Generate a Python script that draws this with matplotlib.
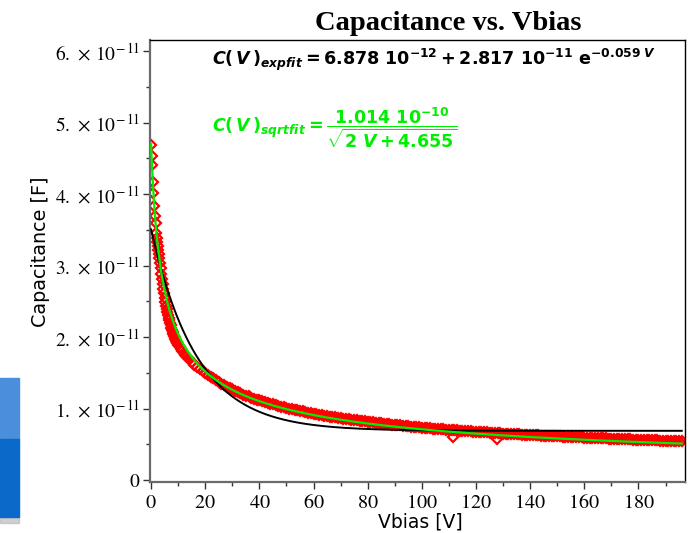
import numpy as np
import matplotlib
matplotlib.use("Agg")
import matplotlib.pyplot as plt
from matplotlib.ticker import MultipleLocator
from matplotlib.patches import Rectangle

# ---------------- data (capacitance in units of 1e-11 F) ----------------
v_data = [0.0, 0.18, 0.32, 0.63, 0.87, 1.18, 1.45, 1.66, 2.0, 2.15, 2.3, 2.45, 2.6, 2.8, 3.0,
          3.25, 3.5, 3.75, 4.0, 4.25, 4.5, 4.75, 5.0, 5.25, 5.5, 5.75, 6.0, 6.25, 6.5, 6.75,
          7.0, 7.25, 7.5, 7.75, 8.0, 8.25, 8.5, 8.75, 9.0, 9.25, 9.5, 9.75, 10, 10.5,
          11, 11.5, 12, 12.5, 13, 13.5, 14, 15, 16, 17, 18, 19, 20, 21, 22, 23, 24, 25, 26, 27,
          28, 29, 30, 31, 32, 33, 34, 35, 36, 37, 38, 39, 40,
          41, 42, 43, 44, 45, 46, 47, 48, 49, 50, 51, 52, 53, 54, 55, 56, 57, 58, 59, 60,
          61, 62, 63, 64, 65, 66, 67, 68, 69, 70, 71, 72, 73, 74, 75, 76, 77, 78, 79, 80,
          81, 82, 83, 84, 85, 86, 87, 88, 89, 90, 91, 92, 93, 94, 95, 96, 97, 98, 99, 100,
          101, 102, 103, 104, 105, 106, 107, 108, 109, 110, 111, 112, 113, 114, 115, 116,
          117, 118, 119, 120, 121, 122, 123, 124, 125, 126, 127, 128, 129, 130, 131, 132,
          133, 134, 135, 136, 137, 138, 139, 140, 141, 142, 143, 144, 145, 146, 147, 148,
          149, 150, 151, 152, 153, 154, 155, 156, 157, 158, 159, 160, 161, 162, 163, 164,
          165, 166, 167, 168, 169, 170, 171, 172, 173, 174, 175, 176, 177, 178, 179, 180,
          181, 182, 183, 184, 185, 186, 187, 188, 189, 190, 191, 192, 193, 194, 195, 196]
c_data = [4.69, 4.53, 4.41, 4.17, 4.01, 3.83, 3.69, 3.59, 3.45, 3.39, 3.33, 3.275, 3.22, 3.16, 3.10,
          3.03, 2.96, 2.885, 2.81, 2.74, 2.67, 2.61, 2.55, 2.495, 2.44, 2.395, 2.355, 2.31, 2.27, 2.235,
          2.20, 2.165, 2.13, 2.10, 2.07, 2.045, 2.02, 1.995, 1.97, 1.95, 1.93, 1.91, 1.89, 1.861,
          1.834, 1.806, 1.779, 1.755, 1.731, 1.71, 1.690, 1.652, 1.615, 1.581, 1.550, 1.523,
          1.497, 1.470, 1.444, 1.420, 1.397, 1.372, 1.347, 1.324,
          1.307, 1.286, 1.266, 1.247, 1.229, 1.211, 1.195, 1.179, 1.168, 1.153, 1.139, 1.125, 1.112,
          1.102, 1.092, 1.080, 1.068, 1.057, 1.046, 1.036, 1.026, 1.016, 1.006, 1.000, 0.993,
          0.984, 0.975, 0.967, 0.959, 0.951, 0.943, 0.935, 0.928,
          0.921, 0.914, 0.907, 0.900, 0.893, 0.887, 0.881, 0.875, 0.869, 0.863, 0.860, 0.857,
          0.851, 0.846, 0.840, 0.835, 0.830, 0.825, 0.820, 0.815,
          0.810, 0.806, 0.801, 0.797, 0.792, 0.788, 0.783, 0.779, 0.775, 0.771, 0.767, 0.763,
          0.759, 0.756, 0.752, 0.748, 0.744, 0.741, 0.737, 0.734,
          0.730, 0.727, 0.723, 0.720, 0.717, 0.714, 0.711, 0.708, 0.705, 0.702, 0.699, 0.697,
          0.694, 0.691, 0.688, 0.685,
          0.682, 0.680, 0.677, 0.675, 0.672, 0.670, 0.667, 0.665, 0.662, 0.660, 0.657, 0.655,
          0.652, 0.650, 0.648, 0.646,
          0.644, 0.642, 0.640, 0.638, 0.635, 0.633, 0.631, 0.630, 0.628, 0.626, 0.624, 0.622,
          0.620, 0.618, 0.616, 0.615,
          0.613, 0.611, 0.609, 0.607, 0.605, 0.603, 0.601, 0.600, 0.598, 0.597, 0.595, 0.594,
          0.592, 0.590, 0.588, 0.587,
          0.585, 0.584, 0.582, 0.581, 0.579, 0.578, 0.576, 0.575, 0.573, 0.572, 0.570, 0.569,
          0.567, 0.566, 0.564, 0.563,
          0.561, 0.560, 0.558, 0.557, 0.556, 0.555, 0.553, 0.552, 0.551, 0.550, 0.548, 0.547,
          0.546, 0.545, 0.543, 0.542]
v_outlier = [111.5, 127.6]
c_outlier = [0.606, 0.570]

# fit parameters as printed on the chart
exp_a, exp_b, exp_k = 6.878e-12, 2.817e-11, 0.059
sqrt_num, sqrt_c = 1.014e-10, 4.655
v_fit_max = 196.0

x_ticks = [0, 20, 40, 60, 80, 100, 120, 140, 160, 180]
y_ticks = [0, 1e-11, 2e-11, 3e-11, 4e-11, 5e-11, 6e-11]
y_tick_labels = [r"$0$", r"$1.\,\times\,10^{-\,11}$", r"$2.\,\times\,10^{-\,11}$",
                 r"$3.\,\times\,10^{-\,11}$", r"$4.\,\times\,10^{-\,11}$",
                 r"$5.\,\times\,10^{-\,11}$", r"$6.\,\times\,10^{-\,11}$"]

# ---------------- figure ----------------
plt.rcParams["mathtext.fontset"] = "stix"
plt.rcParams["mathtext.rm"] = "DejaVu Sans:bold"
plt.rcParams["mathtext.it"] = "DejaVu Sans:italic:bold"
plt.rcParams["mathtext.bf"] = "DejaVu Sans:bold"
plt.rcParams["mathtext.sf"] = "DejaVu Sans:bold"

W, H = 692, 533
fig = plt.figure(figsize=(W / 100, H / 100), dpi=100)

# left decorative blue panel
fig.patches.append(Rectangle((0, 1 - 523 / H), 19 / W, 6 / H, transform=fig.transFigure,
                             color="#b0b0b0", alpha=0.6, zorder=0))
fig.patches.append(Rectangle((0, 1 - 439 / H), 19 / W, 61 / H, transform=fig.transFigure,
                             color="#4a8fdb", zorder=1))
fig.patches.append(Rectangle((0, 1 - 517 / H), 19 / W, 78 / H, transform=fig.transFigure,
                             color="#0b69c9", zorder=1))

ax = fig.add_axes([150 / W, 1 - 482 / H, 535 / W, 442 / H])

mk = dict(linestyle="none", marker="D", ms=5.0, mfc="none", mec="#ff0000", mew=1.6, zorder=2)
ax.plot(np.array(v_data), np.array(c_data) * 1e-11, **mk)
ax.plot(np.array(v_outlier), np.array(c_outlier) * 1e-11, **mk)

vf = np.linspace(0, v_fit_max, 500)
ax.plot(vf, exp_a + exp_b * np.exp(-exp_k * vf), color="black", lw=1.4, zorder=3)
ax.plot(vf, sqrt_num / np.sqrt(2 * vf + sqrt_c), color="#00ee00", lw=1.6, zorder=4)

ax.set_xlim(-0.4, 197.2)
ax.set_ylim(-0.028e-11, 6.154e-11)

ax.set_xticks(x_ticks)
ax.set_xticklabels([r"$%d$" % t for t in x_ticks])
ax.xaxis.set_minor_locator(MultipleLocator(10))
ax.set_yticks(y_ticks)
ax.set_yticklabels(y_tick_labels)
ax.yaxis.set_minor_locator(MultipleLocator(0.5e-11))
for lbl in ax.get_xticklabels() + ax.get_yticklabels():
    lbl.set_math_fontfamily("stix")
ax.tick_params(axis="both", which="major", direction="out", length=5, width=1,
               color="#333333", pad=2)
ax.tick_params(axis="y", which="major", labelsize=14)
ax.tick_params(axis="x", which="major", labelsize=14.5, pad=3)
ax.tick_params(axis="both", which="minor", direction="out", length=3, width=1, color="#333333")

for s in ("left", "bottom"):
    ax.spines[s].set_color("#6a6a6a")
    ax.spines[s].set_linewidth(1.6)
for s in ("top", "right"):
    ax.spines[s].set_color("black")
    ax.spines[s].set_linewidth(1.0)

fig.text(448 / W, 1 - 30 / H, "Capacitance vs. Vbias", ha="center", va="baseline",
         family="Liberation Serif", weight="bold", size=20.5)
fig.text(420 / W, 1 - 527 / H, "Vbias [V]", ha="center", va="baseline",
         family="DejaVu Sans", size=13.5)
fig.text(50 / W, 1 - 252 / H, "Capacitance [F]", ha="right", va="center",
         rotation=90, family="DejaVu Sans", size=13.8)

t1 = fig.text(212 / W, 1 - 65 / H,
              r"$C(\,V\,)_{expfit} = 6.878\ 10^{-12} + 2.817\ 10^{-11}\ \mathrm{e}^{-0.059\ V}$",
              ha="left", va="baseline", size=12.6, color="black")
t1.set_math_fontfamily("custom")
t2 = fig.text(212 / W, 1 - 132 / H,
              r"$C(\,V\,)_{sqrtfit} = \dfrac{1.014\ 10^{-10}}{\sqrt{2\ V + 4.655}}$",
              ha="left", va="baseline", size=12.6, color="#00ee00")
t2.set_math_fontfamily("custom")

fig.savefig("out.png", dpi=100)
